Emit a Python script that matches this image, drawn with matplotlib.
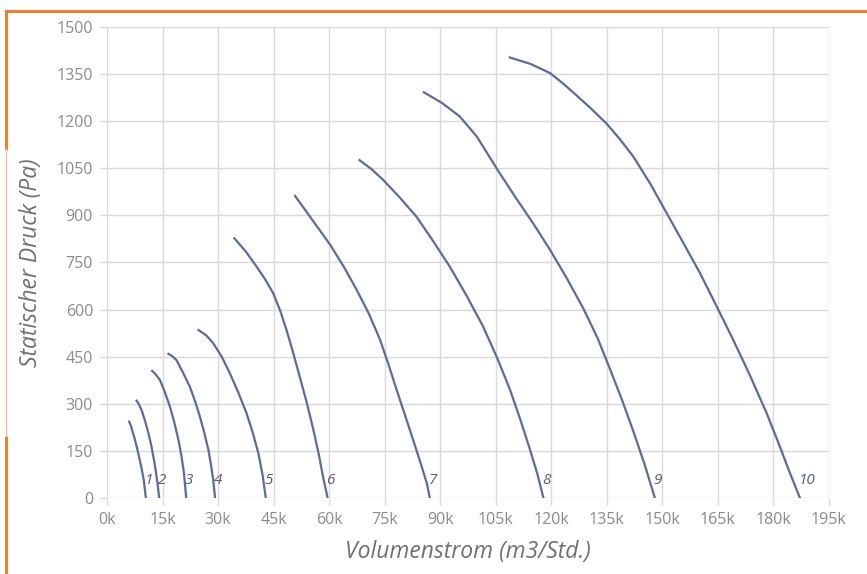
import numpy as np
import matplotlib.pyplot as plt
from matplotlib.lines import Line2D

plt.rcParams['font.family'] = ['Open Sans', 'DejaVu Sans']

# flow in k m3/h, static pressure in Pa, one curve per fan size
labels = ['1', '2', '3', '4', '5', '6', '7', '8', '9', '10']
flow = [
    [6.0, 6.5, 7.0, 7.5, 8.0, 8.5, 9.0, 9.5, 10.0, 10.5],
    [8.0, 8.7, 9.4, 10.3, 11.2, 12.0, 12.7, 13.2, 13.7, 14.1],
    [12.2, 13.2, 14.3, 15.6, 17.0, 18.2, 19.3, 20.1, 20.8, 21.4],
    [16.6, 17.6, 18.8, 20.5, 22.4, 23.8, 25.1, 26.3, 27.4, 28.1, 28.7, 29.2],
    [24.7, 26.8, 28.7, 31.0, 33.2, 35.5, 37.7, 39.4, 40.9, 42.0, 42.9],
    [34.4, 37.5, 40.4, 42.8, 44.9, 46.8, 48.5, 50.3, 52.1, 54.0, 55.7, 57.2, 58.4, 59.6],
    [50.8, 55.5, 60.2, 64.0, 67.4, 70.7, 73.7, 76.0, 78.2, 80.5, 82.7, 84.7, 86.4, 87.2],
    [68.2, 71.5, 74.6, 79.0, 83.6, 88.0, 92.6, 97.2, 101.6, 105.4, 108.9, 111.7, 114.3,
     116.3, 117.9],
    [85.6, 90.5, 95.3, 99.9, 106.1, 110.5, 115.1, 119.7, 124.2, 128.7, 132.5, 135.9,
     139.2, 142.2, 145.2, 148.0],
    [108.8, 114.5, 119.7, 123.0, 125.9, 130.5, 134.9, 138.6, 142.2, 146.8, 151.2, 155.7,
     160.2, 164.7, 169.2, 173.7, 178.2, 181.5, 184.5, 187.2],
]
pressure = [
    [243, 228, 208, 188, 165, 140, 113, 85, 52, 0],
    [310, 297, 278, 245, 206, 165, 121, 85, 42, 0],
    [405, 393, 376, 338, 291, 240, 185, 135, 79, 0],
    [459, 452, 439, 400, 354, 308, 259, 207, 153, 105, 57, 0],
    [535, 518, 493, 450, 397, 335, 270, 207, 142, 75, 0],
    [827, 785, 737, 695, 652, 596, 535, 462, 385, 302, 220, 140, 65, 0],
    [962, 885, 808, 736, 664, 588, 506, 427, 346, 264, 185, 112, 47, 0],
    [1076, 1047, 1013, 958, 896, 820, 737, 643, 546, 446, 344, 248, 153, 75, 0],
    [1292, 1258, 1215, 1151, 1034, 955, 875, 790, 700, 603, 510, 410, 310, 212, 108, 0],
    [1403, 1382, 1353, 1322, 1292, 1243, 1193, 1142, 1087, 1000, 907, 812, 716, 610,
     503, 390, 270, 172, 79, 0],
]

fig = plt.figure(figsize=(8.67, 5.74), dpi=100)
ax = fig.add_axes([0.1234, 0.1324, 0.8326, 0.8206])

line_c = '#5a6c9c'
grid_c = '#d9d9d9'
for i in range(len(labels)):
    x = np.array(flow[i]) * 1000
    ax.plot(x, pressure[i], color=line_c, lw=1.6, solid_joinstyle='round')
    ax.text(x[-1] - 300, 57, labels[i], fontsize=11, style='italic',
            color='#555b6e', ha='left', va='center')

ax.set_xlim(0, 195000)
ax.set_ylim(0, 1500)
ax.set_xticks(np.arange(0, 195001, 15000))
ax.set_xticklabels([f'{int(v/1000)}k' for v in np.arange(0, 195001, 15000)])
ax.set_yticks(np.arange(0, 1501, 150))
ax.grid(True, color=grid_c, lw=1)
ax.set_axisbelow(True)
for s in ax.spines.values():
    s.set_visible(False)
ax.tick_params(axis='both', length=5, width=1, color=grid_c,
               labelcolor='#8a8a8a', labelsize=11.5, pad=5)
ax.set_xlabel('Volumenstrom (m3/Std.)', fontsize=16.5, style='italic',
              color='#707070', labelpad=9)
ax.set_ylabel('Statischer Druck (Pa)', fontsize=16.5, style='italic',
              color='#707070', labelpad=10)

# orange frame (top and left)
orange = '#f07f2e'
fig.add_artist(Line2D([6/867, 1], [1 - 10.5/574] * 2, color=orange, lw=2.2,
                      transform=fig.transFigure))
fig.add_artist(Line2D([6/867] * 2, [1 - 10.5/574, 1 - 148/574], color=orange,
                      lw=2.2, transform=fig.transFigure))
fig.add_artist(Line2D([6/867] * 2, [1 - 148/574, 1 - 438/574], color='#f6b88a',
                      lw=0.8, transform=fig.transFigure))
fig.add_artist(Line2D([6/867] * 2, [1 - 438/574, 0], color=orange,
                      lw=2.2, transform=fig.transFigure))

plt.savefig('out.png', dpi=100)
plt.close()
